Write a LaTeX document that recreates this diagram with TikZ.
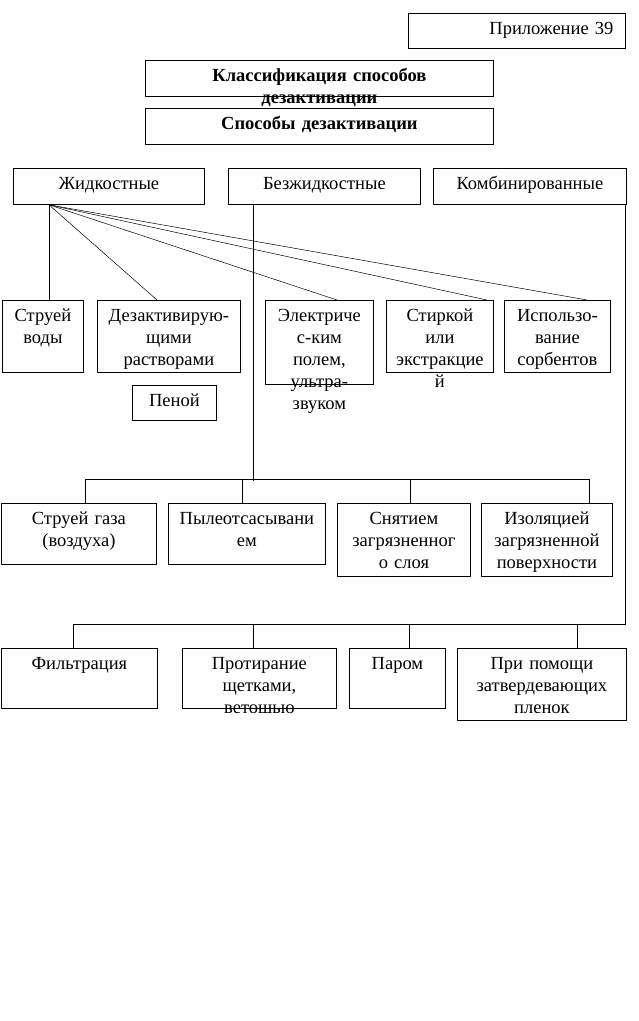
\documentclass[tikz,border=0pt]{standalone}
\usepackage{fontspec}
\setmainfont{Liberation Serif}
\usetikzlibrary{calc}
\hyphenpenalty=10000
\exhyphenpenalty=10000

\tikzset{
  cell/.style 2 args={draw, line width=0.8pt, anchor=north west, inner sep=0pt,
    align=center, text width=#1, text height=21pt, text depth=#2,
    font=\fontsize{18.5}{22}\selectfont},
  bold/.style={font=\fontsize{18.5}{22}\selectfont\bfseries},
  link/.style={line width=0.8pt},
  fanline/.style={line width=0.5pt}
}

\begin{document}
\begin{tikzpicture}[x=1pt,y=-1pt]
\useasboundingbox (0,0) rectangle (638,1021);

% heading
\node[cell={193pt}{14pt}, align=right, inner xsep=12pt] at (408,13) (app) {Приложение 39};
\node[cell={348pt}{15pt}, bold] at (145,60) (title) {Классификация способов\\дезактивации};
\node[cell={348pt}{15pt}, bold] at (145,108) (ways) {Способы дезактивации};

% groups
\node[cell={191pt}{15pt}] at (13,168) (liq) {Жидкостные};
\node[cell={192pt}{15pt}] at (228,168) (dry) {Безжидкостные};
\node[cell={193pt}{15pt}] at (433,168) (comb) {Комбинированные};

% liquid methods
\node[cell={81pt}{51pt}] at (2,300) (jetw) {Струей\\воды};
\node[cell={143pt}{51pt}] at (97,300) (solut) {Дезактивирую-\\щими\\растворами};
\node[cell={84pt}{14pt}] at (132,385) (foam) {Пеной};
\node[cell={108pt}{63pt}] at (265,300) (elec) {Электриче\\с-ким\\полем,\\ультра-\\звуком};
\node[cell={107pt}{51pt}] at (386,300) (wash) {Стиркой\\или\\экстракцие\\й};
\node[cell={106pt}{51pt}] at (504,300) (sorb) {Использо-\\вание\\сорбентов};

% dry methods
\node[cell={155pt}{40pt}] at (1,503) (jetg) {Струей газа\\(воздуха)};
\node[cell={157pt}{40pt}] at (168,503) (vac) {Пылеотсасывани\\ем};
\node[cell={133pt}{52pt}] at (337,503) (strip) {Снятием\\загрязненног\\о слоя};
\node[cell={131pt}{52pt}] at (481,503) (isol) {Изоляцией\\загрязненной\\поверхности};

% combined methods
\node[cell={156pt}{39pt}] at (1,648) (filt) {Фильтрация};
\node[cell={154pt}{39pt}] at (182,648) (brush) {Протирание\\щетками,\\ветошью};
\node[cell={96pt}{39pt}] at (349,648) (steam) {Паром};
\node[cell={169pt}{51pt}] at (457,648) (film) {При помощи\\затвердевающих\\пленок};

% fan from liquid
\coordinate (fan) at ([xshift=36pt]liq.south west);
\draw[link] (fan) -- (fan |- jetw.north);
\draw[fanline] (fan) -- ([xshift=60pt]solut.north west);
\draw[fanline] (fan) -- ([xshift=72pt]elec.north west);
\draw[fanline] (fan) -- ([xshift=101pt]wash.north west);
\draw[fanline] (fan) -- ([xshift=83pt]sorb.north west);

% dry tree
\draw[link] ([xshift=25pt]dry.south west) -- ++(0,276);
\draw[link] ([xshift=84pt]jetg.north west) |- ([xshift=108pt,yshift=24pt]isol.north west) -- ([xshift=108pt]isol.north west);
\draw[link] ([xshift=74pt]vac.north west) -- ++(0,-24);
\draw[link] ([xshift=73pt]strip.north west) -- ++(0,-24);

% combined tree
\draw[link] ([xshift=-1pt]comb.south east) -- ++(0,420);
\draw[link] ([xshift=72pt]filt.north west) |- ([xshift=-1pt,yshift=24pt]film.north east);
\draw[link] ([xshift=71pt]brush.north west) -- ++(0,-24);
\draw[link] ([xshift=60pt]steam.north west) -- ++(0,-24);
\draw[link] ([xshift=120pt]film.north west) -- ++(0,-24);
\end{tikzpicture}
\end{document}
